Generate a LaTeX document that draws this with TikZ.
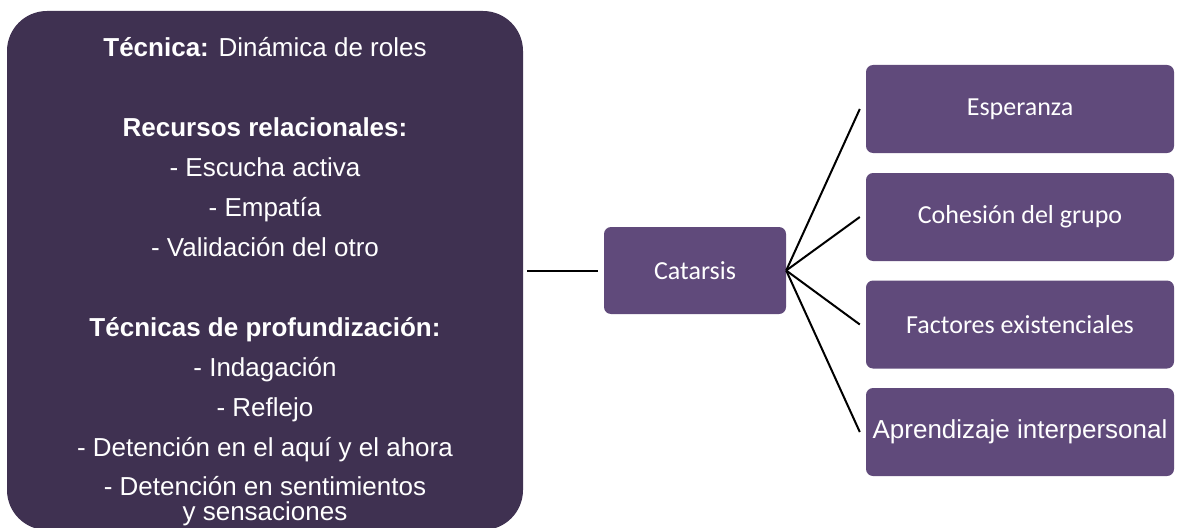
\documentclass[tikz,border=0pt]{standalone}
\usepackage{fontspec}
\newfontfamily\arialfont{Liberation Sans}
\newfontfamily\calibrifont{Carlito}
\definecolor{darkplum}{HTML}{3F3151}
\definecolor{plum}{HTML}{604A7B}
\begin{document}
\begin{tikzpicture}[x=1pt,y=-1pt,
  bigbox/.style={fill=darkplum, draw=none, rounded corners=40pt, minimum width=516pt, minimum height=519pt, inner sep=0pt},
  lefttext/.style={text=white, align=center, inner sep=0pt, font=\arialfont\fontsize{26}{40}\selectfont},
  smallbox/.style={fill=plum, draw=none, rounded corners=7pt, minimum width=308pt, minimum height=88pt, inner sep=0pt, text=white, font=\calibrifont\fontsize{26}{31}\selectfont},
  link/.style={draw=black, line width=2pt}
]
\useasboundingbox (0,0) rectangle (1177,527);
\clip (0,0) rectangle (1177,527);
\node[bigbox] (left) at (265,270.5) {};
\node[lefttext, anchor=north] (ltext) at (265,37) {%
{\bfseries Técnica:} Dinámica de roles\\[40pt]
{\bfseries Recursos relacionales:}\\
- Escucha activa\\
- Empatía\\
- Validación del otro\\[40pt]
{\bfseries Técnicas de profundización:}\\
- Indagación\\
- Reflejo\\
- Detención en el aquí y el ahora\\[-1pt]
- Detención en sentimientos\\[-15pt]
y sensaciones};
\node[smallbox, minimum width=182pt, minimum height=87pt] (cat) at (695,270.5) {Catarsis};
\node[smallbox] (e1) at (1020,109) {Esperanza};
\node[smallbox] (e2) at (1020,217) {Cohesión del grupo};
\node[smallbox] (e3) at (1020,324.5) {Factores existenciales};
\node[smallbox, font=\arialfont\fontsize{26}{31}\selectfont] (e4) at (1020,432) {Aprendizaje interpersonal};
\draw[link] ([xshift=4pt]left.east |- cat.west) -- ([xshift=-6pt]cat.west);
\draw[link] (cat.east) -- ([xshift=-6pt]e1.west);
\draw[link] (cat.east) -- ([xshift=-6pt]e2.west);
\draw[link] (cat.east) -- ([xshift=-6pt]e3.west);
\draw[link] (cat.east) -- ([xshift=-6pt]e4.west);
\end{tikzpicture}
\end{document}
